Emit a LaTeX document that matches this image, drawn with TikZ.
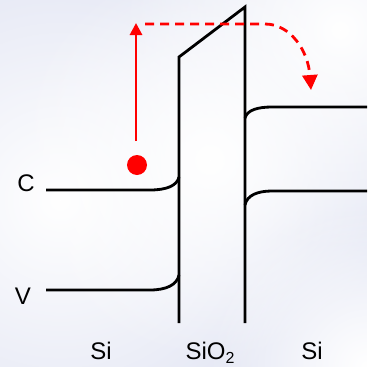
\documentclass[tikz,border=0pt]{standalone}
\usepackage{fontspec}
\setmainfont{Liberation Sans}
\usetikzlibrary{arrows.meta,fadings}
\definecolor{lav}{HTML}{E3E6F4}
\tikzfading[name=glow,inner color=transparent!0,outer color=transparent!100]
\begin{document}
\begin{tikzpicture}[x=1pt,y=-1pt,
  band/.style={line width=2.8pt,black,line cap=butt,line join=miter},
  path red/.style={line width=2.8pt,red},
  glowspot/.style={fill=white,path fading=glow},
  lbl/.style={anchor=base,inner sep=0pt,font=\fontsize{24}{24}\selectfont}]
\useasboundingbox (0,0) rectangle (367,367);
\begin{scope}
\clip (0,0) rectangle (367,367);
\fill[lav] (0,0) rectangle (367,367);
\fill[glowspot] (60,200) circle (260);
\fill[glowspot] (340,30) circle (220);
\fill[glowspot] (210,160) circle (200);
\fill[glowspot] (367,367) circle (160);
\end{scope}
% barrier
\coordinate (b1) at (179,323);
\coordinate (b2) at (179,57);
\coordinate (b3) at (245,7);
\coordinate (b4) at (245,323);
\draw[band] (b1) -- (b2) -- (b3) -- (b4);
% left bands
\coordinate (cl0) at (46,190);
\coordinate (cl1) at (150,190);
\coordinate (cl2) at (179,177);
\draw[band] (cl0) -- (cl1) .. controls (166,190) and (177,186) .. (cl2);
\coordinate (vl0) at (46,290);
\coordinate (vl1) at (150,290);
\coordinate (vl2) at (179,275);
\draw[band] (vl0) -- (vl1) .. controls (166,290) and (177,285) .. (vl2);
% right bands
\coordinate (cr0) at (245,118);
\coordinate (cr1) at (272,107);
\coordinate (cr2) at (367,107);
\draw[band] (cr0) .. controls (247,110) and (258,107) .. (cr1) -- (cr2);
\coordinate (vr0) at (245,205);
\coordinate (vr1) at (272,191);
\coordinate (vr2) at (367,191);
\draw[band] (vr0) .. controls (247,195) and (258,191) .. (vr1) -- (vr2);
% electron
\node[circle,fill=red,minimum size=20pt,inner sep=0pt] (dot) at (137,165) {};
\coordinate (a0) at (136,141);
\coordinate (a1) at (136,23);
\draw[path red,-{Triangle[length=12pt,width=12pt]}] (a0) -- (a1);
\coordinate (d0) at (145,24);
\coordinate (d1) at (265,24);
\coordinate (d2) at (311,90);
\draw[path red,dash pattern=on 9pt off 6pt,-{Triangle[length=15pt,width=15pt]}] (d0) -- (d1) .. controls (290,24) and (308,50) .. (d2);
% labels
\node[lbl] (lc) at (26,191) {C};
\node[lbl] (lv) at (23,304) {V};
\node[lbl] (s1) at (101,359) {Si};
\node[lbl] (s2) at (210,359) {SiO\raisebox{-0.18em}{\fontsize{16}{16}\selectfont 2}};
\node[lbl] (s3) at (312,359) {Si};
\end{tikzpicture}
\end{document}
